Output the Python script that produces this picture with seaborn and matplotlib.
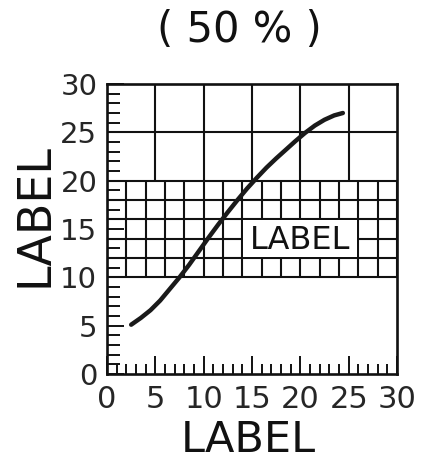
import matplotlib
matplotlib.use("Agg")
import matplotlib.pyplot as plt
from matplotlib.patches import Rectangle
from matplotlib.ticker import MultipleLocator
import seaborn as sns
import pandas as pd

# Curve data
curve_x = [2.5, 3.5, 4.5, 5.5, 6.5, 7.5, 8.5, 9.5, 10.5, 11.5, 12.5, 13.5,
           14.5, 15.5, 16.5, 17.5, 18.5, 19.5, 20.5, 21.5, 22.5, 23.5, 24.4]
curve_y = [5.1, 5.8, 6.6, 7.6, 8.8, 10.0, 11.3, 12.7, 14.1, 15.45, 16.75, 18.0,
           19.2, 20.3, 21.35, 22.3, 23.2, 24.1, 24.95, 25.7, 26.3, 26.75, 27.0]

# Chart grid layout
fine_x = list(range(0, 31, 2))          # fine band verticals
fine_y = list(range(10, 21, 2))         # fine band horizontals
coarse_x = [5, 10, 15, 20, 25]          # upper band verticals
coarse_y = [25]                         # upper band horizontal
fine_band = (10, 20)
coarse_band = (20, 30)

# Boxed note inside the fine band
note_text = "LABEL"
note_x0, note_x1 = 14, 26
note_y0, note_y1 = 12, 16

title_text = "( 50 % )"
x_label = "LABEL"
y_label = "LABEL"
ticks = [0, 5, 10, 15, 20, 25, 30]

sns.set_theme(style="ticks")
plt.rcParams["font.family"] = ["DejaVu Sans"]

fig = plt.figure(figsize=(4.31, 4.68), dpi=100)
ax = fig.add_axes([107 / 431, 1 - 374 / 468, 290 / 431, 290 / 468])
ax.set_xlim(0, 30)
ax.set_ylim(0, 30)

ink = "#111111"
glw = 1.5

# Fine grid band (10–20)
for xv in fine_x:
    ax.plot([xv, xv], list(fine_band), color=ink, lw=glw, zorder=2, solid_capstyle="butt")
for yv in fine_y:
    ax.plot([0, 30], [yv, yv], color=ink, lw=glw, zorder=2, solid_capstyle="butt")

# Coarse grid band (20–30)
for xv in coarse_x:
    ax.plot([xv, xv], list(coarse_band), color=ink, lw=glw, zorder=2, solid_capstyle="butt")
for yv in coarse_y:
    ax.plot([0, 30], [yv, yv], color=ink, lw=glw, zorder=2, solid_capstyle="butt")

# White note box, inset so its bordering grid lines stay visible
inset = 0.12
ax.add_patch(Rectangle((note_x0 + inset, note_y0 + inset),
                       note_x1 - note_x0 - 2 * inset, note_y1 - note_y0 - 2 * inset,
                       facecolor="white", edgecolor="none", zorder=3))
ax.text((note_x0 + note_x1) / 2, (note_y0 + note_y1) / 2 - 0.2, note_text,
        ha="center", va="center", fontsize=23, color=ink, zorder=4)

# Main curve
df = pd.DataFrame({"x": curve_x, "y": curve_y})
sns.lineplot(data=df, x="x", y="y", ax=ax, color="#1a1a1a", lw=3.2,
             zorder=5, solid_capstyle="round", solid_joinstyle="round")

# Axes frame and ticks
for s in ax.spines.values():
    s.set_linewidth(1.9)
    s.set_color(ink)
    s.set_visible(True)

ax.set_xticks(ticks)
ax.set_yticks(ticks)
ax.set_xticklabels([str(t) for t in ticks])
ax.set_yticklabels([str(t) for t in ticks])
ax.xaxis.set_minor_locator(MultipleLocator(1))
ax.yaxis.set_minor_locator(MultipleLocator(1))
ax.tick_params(axis="x", which="major", direction="in", length=13, width=1.4,
               color=ink, labelsize=22, pad=8, top=False)
ax.tick_params(axis="x", which="minor", direction="in", length=7.5, width=1.4,
               color=ink, top=False)
ax.tick_params(axis="y", which="major", direction="in", length=12, width=1.4,
               color=ink, labelsize=21, pad=7, right=False)
ax.tick_params(axis="y", which="minor", direction="in", length=9, width=1.4,
               color=ink, right=False)

ax.set_xlabel(x_label, fontsize=31, color=ink, va="center")
ax.set_ylabel(y_label, fontsize=33, color=ink, va="center")
ax.xaxis.set_label_coords((248 - 107) / 290, (374 - 440) / 290)
ax.yaxis.set_label_coords((35 - 107) / 290, (374 - 215) / 290)

fig.text(239 / 431, 1 - 30 / 468, title_text, ha="center", va="center",
         fontsize=30, color=ink)

fig.savefig("out.png", dpi=100, facecolor="white")
